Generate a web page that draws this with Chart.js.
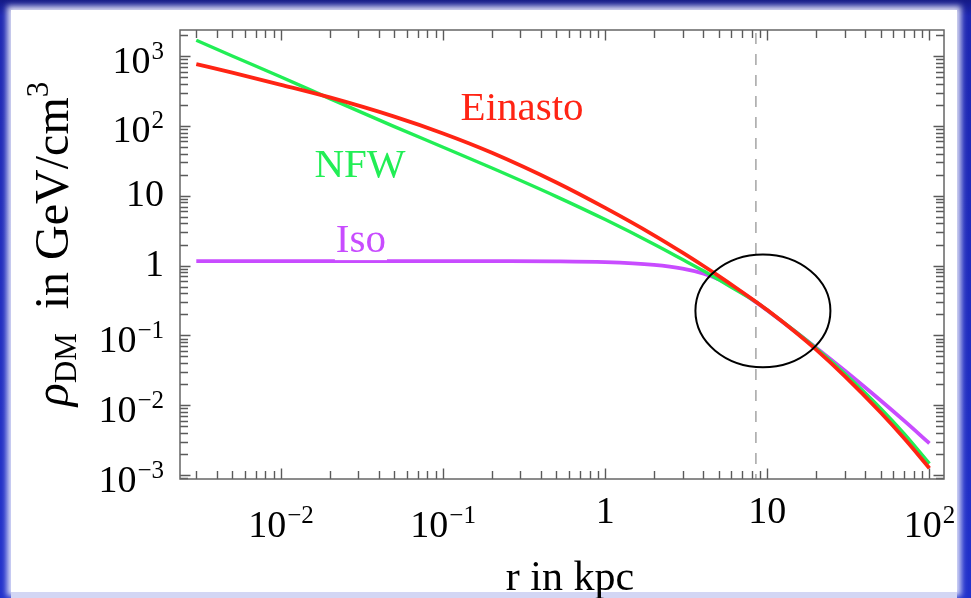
<!DOCTYPE html>
<html>
<head>
<meta charset="utf-8">
<script src="https://cdn.jsdelivr.net/npm/chart.js@4.4.1/dist/chart.umd.min.js"></script>
<style>
  html, body { margin: 0; padding: 0; }
  body { width: 971px; height: 598px; overflow: hidden; position: relative;
    background: linear-gradient(to bottom, #141a86 0px, #1d27b2 16px, #2131cc 100%); }
  #paper { position: absolute; left: 11px; top: 10px; right: 14px; bottom: 6px; background: #fff;
    box-shadow: 0 0 6px 4px rgba(255,255,255,0.85); }
  #foot { position: absolute; left: 11px; right: 14px; bottom: 0; height: 6px; background: #d3d6f4; }
  #chart { position: absolute; left: 0; top: 0; }
</style>
</head>
<body>
<div id="paper"></div>
<div id="foot"></div>
<canvas id="chart" width="971" height="598"></canvas>
<script>
// galactocentric radius, kpc
const radii = [0.003, 0.005, 0.01, 0.02, 0.05, 0.1, 0.2, 0.5, 1, 2, 3, 4, 5, 6.5, 8.5, 10, 15, 20, 30, 50, 70, 100];
// dark matter density, GeV/cm^3
const rhoEinasto = [768, 578, 387, 255.3, 135.6, 77.9, 41.2, 15.45, 6.68, 2.71, 1.53, 1.0, 0.711, 0.469, 0.303, 0.23, 0.11, 0.0624, 0.0261, 0.00786, 0.00333, 0.00125];
const rhoNFW = [1680, 1003, 500, 246, 97.7, 49.4, 24.9, 9.71, 4.55, 2.02, 1.22, 0.848, 0.628, 0.437, 0.302, 0.229, 0.1122, 0.0653, 0.0285, 0.00902, 0.00389, 0.00146];
const rhoIso = [1.156, 1.156, 1.156, 1.156, 1.156, 1.156, 1.156, 1.15, 1.12, 1.02, 0.903, 0.771, 0.638, 0.455, 0.299, 0.2276, 0.1115, 0.0664, 0.0313, 0.01166, 0.00595, 0.00284];

// axis ranges and labelled ticks
const rRange = [0.00238, 123];
const rhoRange = [0.000877, 2360];
const xMajor = [0.01, 0.1, 1, 10, 100];
const xLabelBase = ['10', '10', '1', '10', '10'];
const xLabelExp = ['\u22122', '\u22121', '', '', '2'];
const yMajor = [0.001, 0.01, 0.1, 1, 10, 100, 1000];
const yLabelBase = ['10', '10', '10', '1', '10', '10', '10'];
const yLabelExp = ['\u22123', '\u22122', '\u22121', '', '', '2', '3'];

// annotations: sun position, highlighted region, curve names
const rSun = [8.5];
const circleR = [3.6, 24.5];
const circleRho = [1.44, 0.035];
const curveNames = ['Einasto', 'NFW', 'Iso'];
const nameR = [0.307, 0.0307, 0.0311];
const nameRho = [121, 18.5, 1.556];

const RED = '#ff2414';
const GREEN = '#22ee55';
const PURPLE = '#c84cff';
const SERIF = '"Liberation Serif", "Times New Roman", serif';

function logTicks(min, max) {
    const out = [];
    for (let e = Math.floor(Math.log10(min)); e <= Math.ceil(Math.log10(max)); e++) {
        for (let m = 1; m < 10; m++) {
            const v = m * Math.pow(10, e);
            if (v >= min && v <= max) out.push({ v: v, major: m === 1 });
        }
    }
    return out;
}

// base number with an optional superscript exponent
function powerText(ctx, base, exp, x, baseY, align) {
    ctx.font = '38px ' + SERIF;
    const wb = ctx.measureText(base).width;
    ctx.font = '25px ' + SERIF;
    const we = exp ? ctx.measureText(exp).width + 1 : 0;
    const total = wb + we;
    let left = x;
    if (align === 'center') left = x - total / 2;
    if (align === 'right') left = x - total;
    ctx.textAlign = 'left';
    ctx.textBaseline = 'alphabetic';
    ctx.font = '38px ' + SERIF;
    ctx.fillText(base, left, baseY);
    if (exp) {
        ctx.font = '25px ' + SERIF;
        ctx.fillText(exp, left + wb + 1, baseY - 14);
    }
}

const overlay = {
    id: 'overlay',
    beforeDatasetsDraw(chart) {
        const { ctx, chartArea: a, scales: { x } } = chart;
        const px = x.getPixelForValue(rSun[0]);
        ctx.save();
        ctx.strokeStyle = '#aaaaaa';
        ctx.lineWidth = 1.6;
        ctx.setLineDash([11, 10]);
        ctx.beginPath();
        ctx.moveTo(px, a.top + 3);
        ctx.lineTo(px, a.bottom);
        ctx.stroke();
        ctx.restore();
    },
    afterDatasetsDraw(chart) {
        const { ctx, chartArea: a, scales: { x, y } } = chart;
        ctx.save();

        // highlighted region round the sun
        const x1 = x.getPixelForValue(circleR[0]), x2 = x.getPixelForValue(circleR[1]);
        const y1 = y.getPixelForValue(circleRho[0]), y2 = y.getPixelForValue(circleRho[1]);
        ctx.beginPath();
        ctx.ellipse((x1 + x2) / 2, (y1 + y2) / 2, (x2 - x1) / 2, (y2 - y1) / 2, 0, 0, Math.PI * 2);
        ctx.strokeStyle = '#000';
        ctx.lineWidth = 2;
        ctx.stroke();

        // curve names
        ctx.font = '41px ' + SERIF;
        ctx.textAlign = 'center';
        ctx.textBaseline = 'alphabetic';
        curveNames.forEach((name, i) => {
            const px = x.getPixelForValue(nameR[i]);
            const py = y.getPixelForValue(nameRho[i]);
            if (name === 'Iso') {
                const w = ctx.measureText(name).width;
                ctx.fillStyle = '#fff';
                ctx.fillRect(px - w / 2 - 1, py - 30, w + 2, 38);
            }
            ctx.fillStyle = chart.data.datasets[i].borderColor;
            ctx.fillText(name, px, py);
        });

        // frame with inward ticks on all sides
        ctx.strokeStyle = '#5a5a5a';
        ctx.lineWidth = 1.4;
        ctx.beginPath();
        logTicks(rRange[0], rRange[1]).forEach(t => {
            const px = Math.round(x.getPixelForValue(t.v)) + 0.5;
            const len = t.major ? 10.5 : 8;
            ctx.moveTo(px, a.bottom); ctx.lineTo(px, a.bottom - len);
            ctx.moveTo(px, a.top); ctx.lineTo(px, a.top + len);
        });
        logTicks(rhoRange[0], rhoRange[1]).forEach(t => {
            const py = Math.round(y.getPixelForValue(t.v)) + 0.5;
            const len = t.major ? 10.5 : 8;
            ctx.moveTo(a.left, py); ctx.lineTo(a.left + len, py);
            ctx.moveTo(a.right, py); ctx.lineTo(a.right - len, py);
        });
        ctx.stroke();
        ctx.strokeStyle = '#666';
        ctx.lineWidth = 1.5;
        ctx.strokeRect(a.left, a.top, a.right - a.left, a.bottom - a.top);
        ctx.restore();
    },
    afterDraw(chart) {
        const { ctx, chartArea: a, scales: { x, y } } = chart;
        ctx.save();
        ctx.fillStyle = '#000';

        // tick labels
        xMajor.forEach((v, i) => {
            const px = x.getPixelForValue(v);
            const baseY = xLabelExp[i] ? a.bottom + 58 : a.bottom + 44;
            powerText(ctx, xLabelBase[i], xLabelExp[i], px, baseY, 'center');
        });
        yMajor.forEach((v, i) => {
            const py = y.getPixelForValue(v);
            const baseY = yLabelExp[i] ? py + 16.5 : py + 10.5;
            powerText(ctx, yLabelBase[i], yLabelExp[i], a.left - 16, baseY, 'right');
        });

        // x title
        ctx.font = '42px ' + SERIF;
        ctx.textAlign = 'center';
        ctx.textBaseline = 'alphabetic';
        ctx.fillText('r in kpc', (a.left + a.right) / 2 + 8, 590);

        // y title, rotated
        const pieces = [
            { t: '\u03c1', font: 'italic 48px ' + SERIF, dy: 0 },
            { t: 'DM', font: '31px ' + SERIF, dy: 8 },
            { t: '  in GeV/cm', font: '48px ' + SERIF, dy: 0 },
            { t: '3', font: '31px ' + SERIF, dy: -20 }
        ];
        let total = 0;
        pieces.forEach(p => { ctx.font = p.font; p.w = ctx.measureText(p.t).width; total += p.w; });
        ctx.translate(68, 244);
        ctx.rotate(-Math.PI / 2);
        ctx.textAlign = 'left';
        let cx = -total / 2;
        pieces.forEach(p => {
            ctx.font = p.font;
            ctx.fillText(p.t, cx, p.dy);
            cx += p.w;
        });
        ctx.restore();
    }
};

const toPoints = vals => radii.map((r, i) => ({ x: r, y: vals[i] }));

new Chart(document.getElementById('chart'), {
    type: 'line',
    data: {
        datasets: [
            { label: 'Einasto', data: toPoints(rhoEinasto), borderColor: RED, borderWidth: 3.8 },
            { label: 'NFW', data: toPoints(rhoNFW), borderColor: GREEN, borderWidth: 3.4 },
            { label: 'Iso', data: toPoints(rhoIso), borderColor: PURPLE, borderWidth: 3.8 }
        ]
    },
    options: {
        responsive: false,
        animation: false,
        elements: {
            point: { radius: 0 },
            line: { cubicInterpolationMode: 'monotone', fill: false }
        },
        layout: { padding: { top: 30, right: 27, left: 0, bottom: 0 } },
        plugins: { legend: { display: false }, tooltip: { enabled: false } },
        scales: {
            x: {
                type: 'logarithmic', min: rRange[0], max: rRange[1], bounds: 'data',
                grid: { display: false }, border: { display: false }, ticks: { display: false },
                afterFit(s) { s.height = 119; }
            },
            y: {
                type: 'logarithmic', min: rhoRange[0], max: rhoRange[1], bounds: 'data',
                grid: { display: false }, border: { display: false }, ticks: { display: false },
                afterFit(s) { s.width = 180; }
            }
        }
    },
    plugins: [overlay]
});
</script>
</body>
</html>
